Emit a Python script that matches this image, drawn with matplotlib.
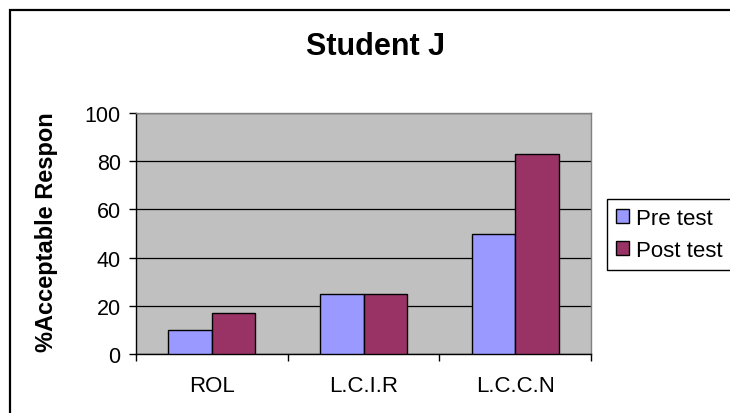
import numpy as np
import matplotlib.pyplot as plt
from matplotlib.patches import Rectangle, Patch

plt.rcParams['font.family'] = ['Liberation Sans', 'DejaVu Sans']

# scores per skill
skills = ['ROL', 'L.C.I.R', 'L.C.C.N']
pre_test = [10, 25, 50]
post_test = [17, 25, 83]
yticks = [0, 20, 40, 60, 80, 100]

pre_col = '#9999FF'
post_col = '#993366'

fig = plt.figure(figsize=(7.3, 4.14), dpi=100)
ax = fig.add_axes([136/730, 1-355/414, (591-136)/730, (355-114)/414])
ax.set_facecolor('#C0C0C0')

x = np.arange(len(skills))
w = 0.286
ax.bar(x - w/2, pre_test, w, color=pre_col, edgecolor='black', linewidth=1.0, zorder=3)
ax.bar(x + w/2, post_test, w, color=post_col, edgecolor='black', linewidth=1.0, zorder=3)

ax.set_xlim(-0.5, 2.5)
ax.set_ylim(0, 100)
ax.set_yticks(yticks)
ax.yaxis.grid(True, color='black', linewidth=0.9, zorder=1)
ax.set_axisbelow(True)

ax.set_xticks(x)
ax.set_xticklabels(skills, fontsize=16)
ax.set_xticks([-0.5, 0.5, 1.5, 2.5], minor=True)
ax.tick_params(axis='x', which='major', length=0, pad=15)
ax.tick_params(axis='x', which='minor', length=5, width=1, direction='out')
ax.tick_params(axis='y', labelsize=15.5, length=5, width=1, pad=6, direction='out')

for s in ['top', 'right']:
    ax.spines[s].set_color('#808080')
    ax.spines[s].set_linewidth(1)
for s in ['left', 'bottom']:
    ax.spines[s].set_color('black')
    ax.spines[s].set_linewidth(1)

ax.set_ylabel('%Acceptable Respon', fontsize=17, fontweight='bold')
ax.yaxis.set_label_coords(-0.172, 0.51)

fig.text(376/730, 1-47/414, 'Student J', fontsize=22, fontweight='bold',
         ha='center', va='center')

handles = [Patch(facecolor=pre_col, edgecolor='black', linewidth=1),
           Patch(facecolor=post_col, edgecolor='black', linewidth=1)]
leg = fig.legend(handles, ['Pre test', 'Post test'], loc='upper left',
                 bbox_to_anchor=(607/730, 1-200/414), fontsize=16,
                 frameon=True, fancybox=False, framealpha=1, edgecolor='black',
                 handlelength=0.6, handleheight=0.6, handletextpad=0.3,
                 labelspacing=0.5, borderpad=0.4, borderaxespad=0)
leg.get_frame().set_linewidth(1)

# outer chart border
fig.patches.append(Rectangle((9.5/730, -0.1), 1.2, 1.1 - 11.5/414,
                             transform=fig.transFigure, fill=False,
                             edgecolor='black', linewidth=1.6))

fig.savefig('out.png', dpi=100)
